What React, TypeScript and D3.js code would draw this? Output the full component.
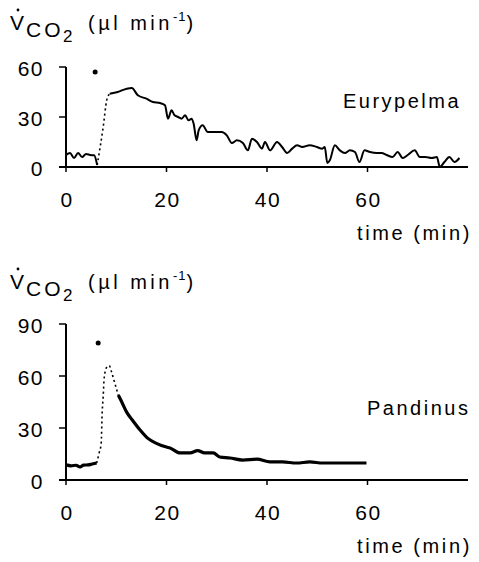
import React from "react";
import * as d3 from "d3";

// ---- data ----
const xTicks = [0, 20, 40, 60];
const eurYTicks = [0, 30, 60];
const panYTicks = [0, 30, 60, 90];

const eurTime = [0, 0.8, 1.6, 2.4, 3.2, 4, 4.8, 5.6, 6.2, 6.8, 7.4, 8.1, 8.7, 10.3, 12.1, 13.1, 14.3, 16, 17.3, 18.7, 19.7, 20.3, 21, 21.6, 22.3, 23, 23.7, 24.4, 25, 25.4, 26, 26.4, 27.2, 28.2, 29.6, 31, 32, 33, 34, 35.2, 36.2, 37, 38, 39, 39.6, 40.6, 42, 43, 44, 45, 46, 47, 48.5, 49.9, 51, 51.5, 52, 52.5, 53.5, 54.5, 55.5, 56.5, 57.5, 58.4, 59.4, 60.5, 61.8, 62.8, 63.8, 65, 66, 67, 68, 69.4, 70.4, 71.5, 72.8, 73.8, 74.4, 75.3, 76.3, 77.3, 78.3];
const eurValue = [7.2, 8.4, 5.4, 8.4, 6, 7.8, 7.2, 7, 1.2, 12, 24, 40, 44, 45, 47, 47.4, 43, 41, 39, 38.4, 37, 29, 34, 31, 30, 29, 31, 28, 29, 26, 16, 22, 25, 21, 21, 21, 19, 14.4, 16, 14.4, 10, 17, 15, 11, 15, 10, 15, 12, 8.4, 11, 13, 12, 13, 12, 11, 12, 2.4, 4, 13, 10, 8.4, 10, 9, 3, 10, 9, 8.4, 8.4, 7.2, 6, 9, 5.4, 7.2, 10, 6, 6, 5.4, 6, 0, 3, 6, 3, 5.4];
const eurRise = [6.2, 8.7];
const eurStimulus = { t: 5.8, v: 57 };

const panTime = [0, 1, 2, 2.8, 3.5, 4.4, 5.2, 6.1, 6.6, 7, 7.2, 7.4, 7.6, 8.1, 8.6, 9.1, 9.7, 10.4, 11.1, 12.1, 13.1, 14.7, 16.3, 18.1, 20, 20.7, 22.7, 24.7, 26.2, 27.6, 29.3, 30.6, 32.6, 35.2, 38, 40.6, 43.1, 45.9, 48.5, 51.1, 53.9, 56.5, 59.8];
const panValue = [8.7, 8.2, 8.5, 7.5, 8.6, 8.7, 9.2, 9.8, 15.6, 21, 39, 48, 59, 65, 66, 62, 56, 49, 45, 39, 35, 29, 24, 21, 19, 18.5, 15.6, 15.6, 17, 15.6, 15.6, 13.3, 12.7, 11.5, 12, 10.4, 10.4, 9.8, 10.4, 9.8, 9.8, 9.8, 9.8];
const panRise = [6.1, 10.4];
const panStimulus = { t: 6.4, v: 79 };

const FONT = "'Liberation Sans', Arial, Helvetica, sans-serif";

type PanelProps = {
  yMax: number;
  yTop: number;
  yBottom: number;
  yTicks: number[];
  times: number[];
  values: number[];
  rise: number[];
  stim: { t: number; v: number };
  label: string;
  labelX: number;
  labelY: number;
  lineWidth: number;
};

function Title({ dy }: { dy: number }) {
  return (
    <g fontFamily={FONT} fill="#000">
      <circle cx={18} cy={10 + dy} r={1.4} fill="#000" />
      <text x={10} y={30 + dy} fontSize={21}>V</text>
      <text x={26} y={37 + dy} fontSize={21} letterSpacing={3}>CO</text>
      <text x={63} y={42 + dy} fontSize={17}>2</text>
      <text x={88} y={30 + dy} fontSize={20} letterSpacing={3.5}>
        (µl min
        <tspan dy={-9} fontSize={13} letterSpacing={1}>-1</tspan>
        <tspan dy={9} fontSize={20}>)</tspan>
      </text>
    </g>
  );
}

function Panel(p: PanelProps) {
  const x = d3.scaleLinear().domain([0, 80]).range([66, 468]);
  const y = d3.scaleLinear().domain([0, p.yMax]).range([p.yBottom, p.yTop]);
  const pts = p.times.map((t, i) => ({ t, v: p.values[i] }));
  const line = d3.line<{ t: number; v: number }>().x(d => x(d.t)).y(d => y(d.v)).curve(d3.curveMonotoneX);
  const before = pts.filter(d => d.t <= p.rise[0]);
  const rising = pts.filter(d => d.t >= p.rise[0] && d.t <= p.rise[1]);
  const after = pts.filter(d => d.t >= p.rise[1]);
  const y0 = y(0);
  return (
    <g fontFamily={FONT} fill="#000">
      <line x1={x(0) - 7} x2={x(80)} y1={y0} y2={y0} stroke="#000" strokeWidth={2} />
      <line x1={x(0)} x2={x(0)} y1={y(p.yMax)} y2={y0} stroke="#000" strokeWidth={2} />
      {p.yTicks.map(v => (
        <g key={"y" + v}>
          <line x1={x(0) - 7} x2={x(0)} y1={y(v)} y2={y(v)} stroke="#000" strokeWidth={1.5} />
          <text x={44} y={y(v) + 9} fontSize={21} textAnchor="end" letterSpacing={1.5}>{v}</text>
        </g>
      ))}
      {xTicks.map(v => (
        <g key={"x" + v}>
          <line x1={x(v)} x2={x(v)} y1={y0} y2={y0 + 5} stroke="#000" strokeWidth={1.5} />
          <text x={x(v) + 1} y={y0 + 40} fontSize={21} textAnchor="middle" letterSpacing={1.5}>{v}</text>
        </g>
      ))}
      <text x={357} y={y0 + 73} fontSize={20} letterSpacing={2.6}>time (min)</text>
      <path d={line(before) || ""} fill="none" stroke="#000" strokeWidth={p.lineWidth} strokeLinejoin="round" />
      <path d={line(rising) || ""} fill="none" stroke="#000" strokeWidth={1.6} strokeDasharray="2 3" />
      <path d={line(after) || ""} fill="none" stroke="#000" strokeWidth={p.lineWidth} strokeLinejoin="round" />
      <circle cx={x(p.stim.t)} cy={y(p.stim.v)} r={2.5} fill="#000" />
      <text x={p.labelX} y={p.labelY} fontSize={20} letterSpacing={2.5}>{p.label}</text>
    </g>
  );
}

export default function App() {
  return (
    <svg width={479} height={562} style={{ position: "absolute", left: 0, top: 0, background: "#fff" }}>
      <rect width={479} height={562} fill="#fff" />
      <Title dy={0} />
      <Panel yMax={60} yTop={67} yBottom={167} yTicks={eurYTicks} times={eurTime} values={eurValue}
        rise={eurRise} stim={eurStimulus} label="Eurypelma" labelX={343} labelY={108} lineWidth={2} />
      <Title dy={259} />
      <Panel yMax={90} yTop={324} yBottom={480} yTicks={panYTicks} times={panTime} values={panValue}
        rise={panRise} stim={panStimulus} label="Pandinus" labelX={367} labelY={415} lineWidth={3.2} />
    </svg>
  );
}
